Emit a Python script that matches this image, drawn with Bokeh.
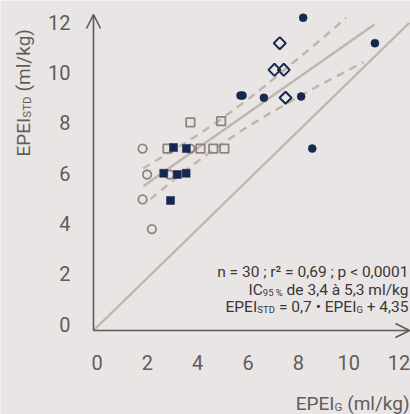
import numpy as np
from bokeh.plotting import figure
from bokeh.models import Range1d, Label, Arrow, OpenHead
from bokeh.core.properties import value
from bokeh.embed import file_html
from bokeh.resources import INLINE

# ---------------- data ----------------
ticks = [0, 2, 4, 6, 8, 10, 12]
tick_labels = ["0", "2", "4", "6", "8", "10", "12"]

grey_circle_x = [1.95, 2.13, 1.95, 2.32, 3.02, 3.85]
grey_circle_y = [7.23, 6.20, 5.21, 4.03, 6.20, 7.23]

grey_square_x = [3.85, 5.07, 2.94, 4.25, 4.76, 5.20]
grey_square_y = [8.27, 8.32, 7.23, 7.23, 7.23, 7.23]

navy_square_x = [3.18, 3.69, 2.79, 3.33, 3.68, 3.06]
navy_square_y = [7.27, 7.23, 6.25, 6.20, 6.25, 5.17]

navy_circle_x = [8.33, 11.18, 5.84, 5.92, 6.77, 8.25, 8.69]
navy_circle_y = [12.43, 11.42, 9.34, 9.34, 9.25, 9.30, 7.23]

diamond_x = [7.40, 7.19, 7.56, 7.63]
diamond_y = [11.42, 10.36, 10.36, 9.25]

reg_x = [1.99, 11.16]
reg_y = [5.74, 12.16]

ci_up_x = [1.97, 3.0, 4.0, 5.0, 6.0, 7.0, 8.0, 9.0, 10.04]
ci_up_y = [6.44, 7.07, 7.68, 8.35, 9.08, 9.87, 10.70, 11.53, 12.43]

ci_lo_x = [2.26, 3.0, 4.0, 5.0, 6.0, 7.0, 8.0, 9.0, 10.74]
ci_lo_y = [5.22, 5.83, 6.62, 7.35, 8.02, 8.63, 9.20, 9.76, 10.67]

ident_x = [0.0, 12.55]
ident_y = [0.0, 12.23]

# ---------------- layout / style ----------------
W, H = 410, 414
OX, OY = 93, 330          # pixel position of the axes origin
PX_X, PX_Y = 25.17, 25.16  # pixels per data unit

BG = "#e9e5e4"
NAVY = "#15284f"
GREY = "#8e837e"
LINE = "#c0b5af"
AXC = "#5e5856"
TICKC = "#625b59"
TXT = "#3c3636"
FONT = "Roboto"


def px2x(px):
    return (px - OX) / PX_X


def px2y(py):
    return (OY - py) / PX_Y


EM = {" ": 0.248, "E": 0.568, "P": 0.631, "I": 0.279, "S": 0.604, "T": 0.607,
      "D": 0.657, "G": 0.684, "C": 0.651, "(": 0.342, ")": 0.347, "m": 0.874,
      "l": 0.242, "/": 0.412, "k": 0.507, "g": 0.561, ",": 0.196, "=": 0.549,
      "+": 0.568, "\u2022": 0.35, "d": 0.56, "e": 0.53, "\u00e0": 0.544,
      "%": 0.732, "n": 0.552, ";": 0.211, "r": 0.338, "\u00b2": 0.37,
      "p": 0.56, "<": 0.508}


def tw(s, size):
    return sum(EM.get(c, 0.5615) for c in s) * size


p = figure(width=W, height=H,
           x_range=Range1d(px2x(0), px2x(W)), y_range=Range1d(px2y(H), px2y(0)),
           output_backend="svg", toolbar_location=None,
           x_axis_location=None, y_axis_location=None,
           min_border=0, min_border_left=0, min_border_right=0,
           min_border_top=0, min_border_bottom=0)
p.background_fill_color = BG
p.border_fill_color = BG
p.outline_line_color = None
p.grid.grid_line_color = None

# tick labels (through the plot scales)
p.text(x=ticks, y=[px2y(362)] * len(ticks), text=tick_labels, x_offset=3.5,
       text_align="center", text_baseline="middle", text_font=value(FONT),
       text_font_size="20px", text_color=TICKC)
p.text(x=[px2x(70)] * len(ticks), y=ticks, text=tick_labels, y_offset=-6.5,
       text_align="right", text_baseline="middle", text_font=value(FONT),
       text_font_size="20px", text_color=TICKC)

# lines
p.line(ident_x, ident_y, line_color=LINE, line_width=2.4)
p.line(reg_x, reg_y, line_color=LINE, line_width=2.4)
p.line(ci_up_x, ci_up_y, line_color=LINE, line_width=2.4, line_dash="8 6")
p.line(ci_lo_x, ci_lo_y, line_color=LINE, line_width=2.4, line_dash="8 6")

# markers
p.scatter(grey_circle_x, grey_circle_y, marker="circle", size=8.5, fill_color=None,
          line_color=GREY, line_width=1.8)
p.scatter(grey_square_x, grey_square_y, marker="square", size=8.5, fill_color=None,
          line_color=GREY, line_width=1.8)
p.scatter(navy_square_x, navy_square_y, marker="square", size=8, fill_color=NAVY,
          line_color=NAVY, line_width=0.5)
p.scatter(navy_circle_x, navy_circle_y, marker="circle", size=8, fill_color=NAVY,
          line_color=NAVY, line_width=0.5)
p.scatter(diamond_x, diamond_y, marker="square", angle=np.pi / 4, size=8.5,
          fill_color=None, line_color=NAVY, line_width=2)

# axes with arrows
p.add_layout(Arrow(end=OpenHead(size=14, line_color=AXC, line_width=1.6),
                   x_start=0, y_start=0, x_end=px2x(409), y_end=0,
                   line_color=AXC, line_width=1.6))
p.add_layout(Arrow(end=OpenHead(size=14, line_color=AXC, line_width=1.6),
                   x_start=0, y_start=0, x_end=0, y_end=px2y(14),
                   line_color=AXC, line_width=1.6))


def label(px, py, text, size, color, align="left", angle=0.0):
    p.add_layout(Label(x=px2x(px), y=px2y(py), text=text, text_font=FONT,
                       text_font_size=f"{size}px", text_color=color,
                       text_align=align, text_baseline="alphabetic", angle=angle))


def rich_right(x_right, base, pieces, color):
    """pieces: list of (text, size, dy), laid out right-aligned at x_right."""
    x = x_right
    for text, size, dy in reversed(pieces):
        core = text.strip()
        trail = len(text) - len(text.rstrip())
        label(x - tw(" " * trail, size), base + dy, core, size, color, align="right")
        x -= tw(text, size)


# annotation block
AS = 15.5
SS = 9.5
rich_right(408, 271, [("n = 30 ; r\u00b2 = 0,69 ; p < 0,0001", AS, 0)], TXT)
rich_right(408, 289, [("IC", AS, 0), ("95 %", SS, 3), (" de 3,4 \u00e0 5,3 ml/kg", AS, 0)], TXT)
rich_right(408, 306, [("EPEI", AS, 0), ("STD", SS, 3), (" = 0,7 \u2022 EPEI", AS, 0),
                      ("G", SS, 3), (" + 4,35", AS, 0)], TXT)

# x axis title
TS = 19
rich_right(409, 403, [("EPEI", TS, 0), ("G", 11.5, 3), (" (ml/kg)", TS, 0)], TICKC)

# y axis title (rotated)
y0 = 156
bx = 23
for text, size, dx in [("EPEI", TS, 0), ("STD", 11.5, 3), (" (ml/kg)", TS, 0)]:
    lead = len(text) - len(text.lstrip())
    label(bx + dx, y0 - tw(" " * lead, size), text.strip(), size, TICKC, angle=np.pi / 2)
    y0 -= tw(text, size)

open("out.html", "w").write(file_html(p, INLINE))
